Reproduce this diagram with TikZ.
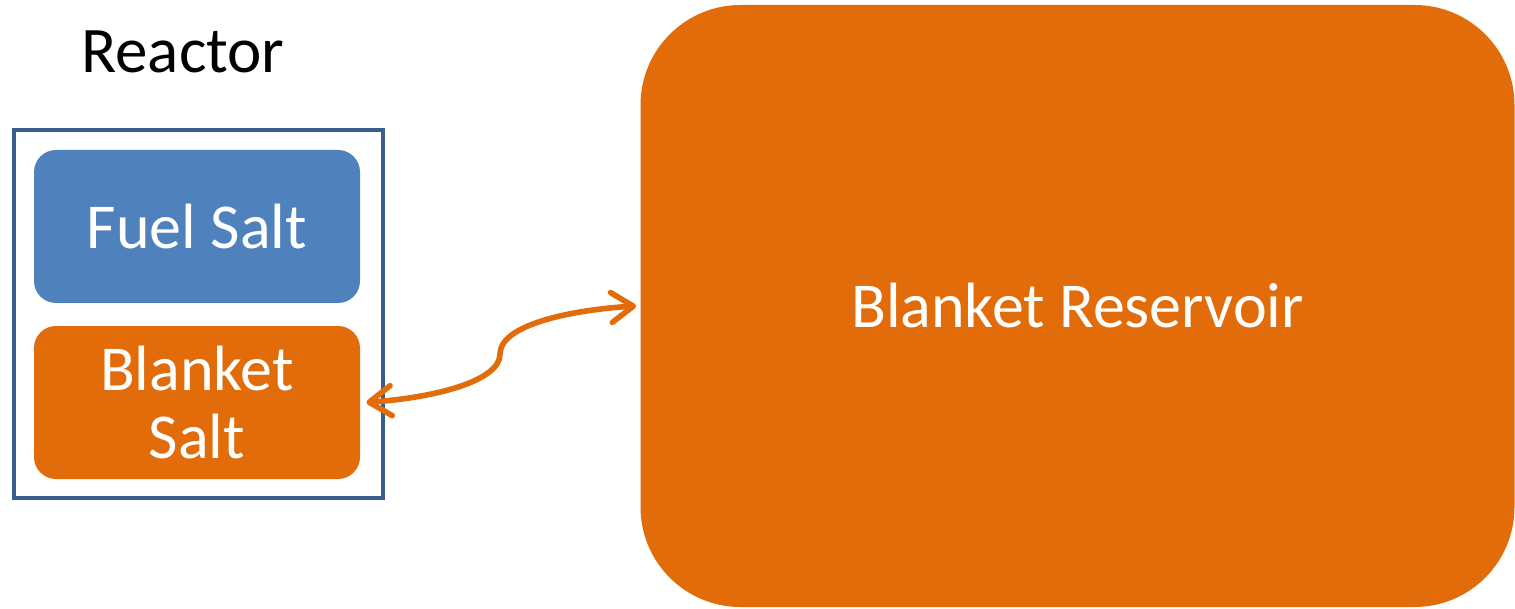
\documentclass[tikz,border=0pt]{standalone}
\usepackage{fontspec}
\setmainfont{Carlito}
\usetikzlibrary{arrows.meta}
\definecolor{fuelblue}{HTML}{4F81BD}
\definecolor{salty}{HTML}{E36C0A}
\definecolor{frameblue}{HTML}{3A5E8C}
\tikzset{
  saltbox/.style={rounded corners=11pt, inner sep=0pt, text=white, align=center,
    font=\fontsize{32}{34}\selectfont},
  barb/.tip={Straight Barb[length=11pt,width=15pt,line width=2.8pt,round]},
  link/.style={salty, line width=2.8pt, line cap=round, barb-barb}
}
\begin{document}
\begin{tikzpicture}[x=0.5pt,y=-0.5pt]
\useasboundingbox (0,0) rectangle (1515,609);
\node[draw=frameblue, line width=2pt, fill=white, minimum width=184.5pt, minimum height=184pt, inner sep=0pt] (reactor) at (198.5,314) {};
\node[saltbox, fill=fuelblue, minimum width=163pt, minimum height=76.5pt] (fuel) at (197,226.5) {Fuel Salt};
\node[saltbox, fill=salty, minimum width=163pt, minimum height=76.5pt] (blanket) at (197,402.5) {Blanket\\Salt};
\node[anchor=base, font=\fontsize{32.5}{34}\selectfont, inner sep=0pt] (title) at (183,73) {Reactor};
\node[saltbox, rounded corners=50pt, fill=salty, minimum width=437pt, minimum height=301pt] (reservoir) at (1077.5,306) {Blanket Reservoir};
\coordinate (mid) at (500,354);
\coordinate (a) at ([xshift=3pt]blanket.east);
\coordinate (b) at ([xshift=-2pt]reservoir.west);
\draw[link] (a) .. controls (440,397) and (500,380) .. (mid)
      .. controls (500,325) and (570,310) .. (b);
\end{tikzpicture}
\end{document}
